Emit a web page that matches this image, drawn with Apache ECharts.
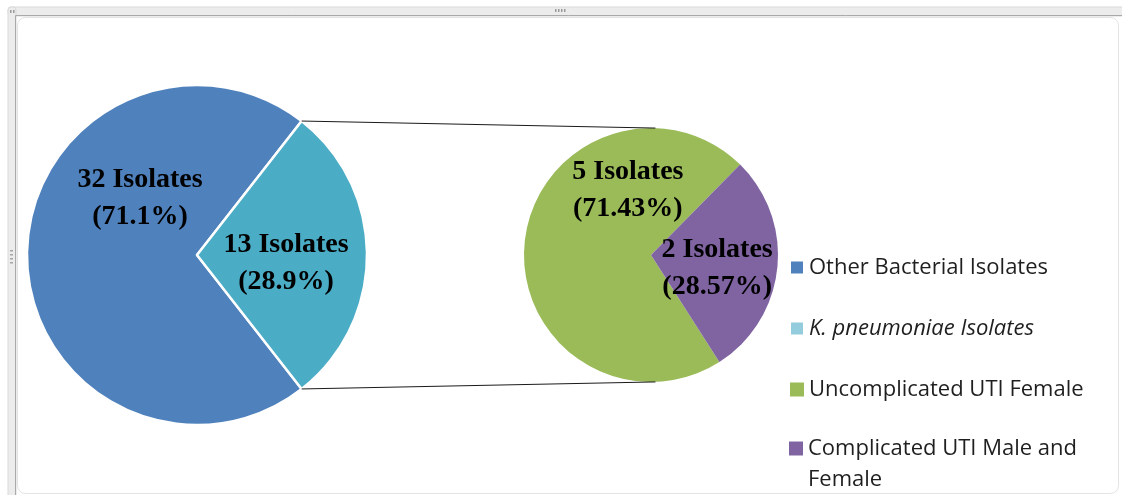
<!DOCTYPE html>
<html>
<head>
<meta charset="utf-8">
<script src="https://cdn.jsdelivr.net/npm/echarts@6/dist/echarts.min.js"></script>
<style>
  html, body { margin: 0; padding: 0; background: #ffffff; }
  #chart { width: 1122px; height: 495px; }
</style>
</head>
<body>
<div id="chart"></div>
<script>
// Primary pie: all isolates
const primaryNames = ['Other Bacterial Isolates', 'K. pneumoniae Isolates'];
const primaryValues = [32, 13];
// Secondary pie: breakdown of the K. pneumoniae isolates
const secondaryNames = ['Uncomplicated UTI Female', 'Complicated UTI Male and Female'];
const secondaryValues = [5, 2];

const primaryColors = ['#4F81BD', '#4BACC6'];
const secondaryColors = ['#9BBB59', '#8064A2'];
const kLegendColor = '#93CDDD';

// Geometry of the two pies (pixels)
const P1 = { cx: 197, cy: 255, r: 170 };
const P2 = { cx: 651, cy: 255, r: 127 };

const sum = a => a.reduce((s, v) => s + v, 0);
const primaryTotal = sum(primaryValues);
const secondaryTotal = sum(secondaryValues);

// K. pneumoniae wedge is centred on the 3 o'clock direction
const kHalfAngle = primaryValues[1] / primaryTotal * 180;
const primaryStart = -kHalfAngle;
// Second pie: the small slice sits slightly below 3 o'clock
const secondaryTilt = -6;
const secondaryStart = secondaryTilt - secondaryValues[1] / secondaryTotal * 180;

const rad = d => d * Math.PI / 180;
const onCircle = (p, deg) => [p.cx + p.r * Math.cos(rad(deg)), p.cy - p.r * Math.sin(rad(deg))];

const kTop = onCircle(P1, kHalfAngle);
const kBottom = onCircle(P1, -kHalfAngle);
const pTop = onCircle(P2, 88);
const pBottom = onCircle(P2, -88);

const labelFont = {
  color: '#000000',
  fontFamily: '"Liberation Serif", "Times New Roman", serif',
  fontWeight: 'bold',
  fontSize: 28,
  lineHeight: 37
};

// Label nudges from the default inside position
const primaryLabelShift = [[31, -57], [1, 8]];
const secondaryLabelShift = [[43, -58], [0, 6]];

const legendFont = {
  color: '#1f1f1f',
  fontFamily: '"Open Sans", "Noto Sans", sans-serif',
  fontSize: 22,
  lineHeight: 31
};

const chart = echarts.init(document.getElementById('chart'), null, { renderer: 'canvas' });

const frameColor = '#ececec';
const graphics = [
  // window-style frame
  { type: 'rect', shape: { x: 8, y: 7, width: 1130, height: 9, r: 3 }, style: { fill: frameColor, stroke: '#d9d9d9' }, silent: true },
  { type: 'rect', shape: { x: 8, y: 7, width: 8, height: 500, r: 3 }, style: { fill: frameColor, stroke: '#d9d9d9' }, silent: true },
  { type: 'line', shape: { x1: 15.5, y1: 15.5, x2: 1122, y2: 15.5 }, style: { stroke: '#a9a9a9', lineWidth: 1 }, silent: true },
  { type: 'line', shape: { x1: 15.5, y1: 15.5, x2: 15.5, y2: 495 }, style: { stroke: '#a9a9a9', lineWidth: 1 }, silent: true },
  { type: 'rect', shape: { x: 17.5, y: 17.5, width: 1101, height: 476, r: 8 }, style: { fill: 'none', stroke: '#e3e3e3', lineWidth: 1 }, silent: true },
  // connector lines between the pies
  { type: 'line', z: 10, shape: { x1: kTop[0], y1: kTop[1], x2: pTop[0], y2: pTop[1] }, style: { stroke: '#1a1a1a', lineWidth: 1 }, silent: true },
  { type: 'line', z: 10, shape: { x1: kBottom[0], y1: kBottom[1], x2: pBottom[0], y2: pBottom[1] }, style: { stroke: '#1a1a1a', lineWidth: 1 }, silent: true }
];
// grip dots
[[555, 9], [558, 9], [561, 9], [564, 9], [10, 10], [13, 10]].forEach(([x, y]) => {
  graphics.push({ type: 'rect', shape: { x: x, y: y, width: 1.5, height: 3 }, style: { fill: '#9a9a9a' }, silent: true });
});
[[10, 250], [10, 254], [10, 258], [10, 262]].forEach(([x, y]) => {
  graphics.push({ type: 'rect', shape: { x: x, y: y, width: 3, height: 1.5 }, style: { fill: '#a5a5a5' }, silent: true });
});

const option = {
  animation: false,
  backgroundColor: '#ffffff',
  legend: [
    {
      orient: 'vertical',
      left: 789,
      top: 252,
      padding: 0,
      itemWidth: 14,
      itemHeight: 14,
      itemGap: 30,
      icon: 'rect',
      selectedMode: false,
      textStyle: Object.assign({}, legendFont, {
        rich: { i: Object.assign({ fontStyle: 'italic' }, legendFont) }
      }),
      data: [
        { name: primaryNames[0] },
        { name: primaryNames[1], itemStyle: { color: kLegendColor } },
        { name: secondaryNames[0] }
      ],
      formatter: name => name === primaryNames[1] ? '{i|' + name + '}' : name
    },
    {
      orient: 'vertical',
      left: 789,
      top: 402,
      padding: 0,
      itemWidth: 14,
      itemHeight: 14,
      icon: 'rect',
      selectedMode: false,
      textStyle: legendFont,
      data: [{ name: secondaryNames[1] }],
      // leading blank line keeps the marker level with the first text line
      formatter: name => '\n' + name.replace(/ (Female)$/, '\n$1')
    }
  ],
  graphic: graphics,
  series: [
    {
      type: 'pie',
      name: 'All isolates',
      center: [P1.cx, P1.cy],
      radius: [0, P1.r],
      startAngle: primaryStart,
      clockwise: true,
      percentPrecision: 1,
      avoidLabelOverlap: false,
      emphasis: { disabled: true },
      itemStyle: { borderColor: '#ffffff', borderWidth: 2.5 },
      label: Object.assign({ show: true, position: 'inside', formatter: '{c} Isolates\n({d}%)' }, labelFont),
      labelLine: { show: false },
      labelLayout: p => ({ dx: primaryLabelShift[p.dataIndex][0], dy: primaryLabelShift[p.dataIndex][1] }),
      data: primaryNames.map((n, i) => ({ name: n, value: primaryValues[i], itemStyle: { color: primaryColors[i] } }))
    },
    {
      type: 'pie',
      name: 'K. pneumoniae',
      center: [P2.cx, P2.cy],
      radius: [0, P2.r],
      startAngle: secondaryStart,
      clockwise: true,
      percentPrecision: 2,
      avoidLabelOverlap: false,
      emphasis: { disabled: true },
      itemStyle: { borderWidth: 0 },
      label: Object.assign({ show: true, position: 'inside', formatter: '{c} Isolates\n({d}%)' }, labelFont),
      labelLine: { show: false },
      labelLayout: p => ({ dx: secondaryLabelShift[p.dataIndex][0], dy: secondaryLabelShift[p.dataIndex][1] }),
      data: secondaryNames.map((n, i) => ({ name: n, value: secondaryValues[i], itemStyle: { color: secondaryColors[i] } }))
    }
  ]
};

chart.setOption(option);
</script>
</body>
</html>
